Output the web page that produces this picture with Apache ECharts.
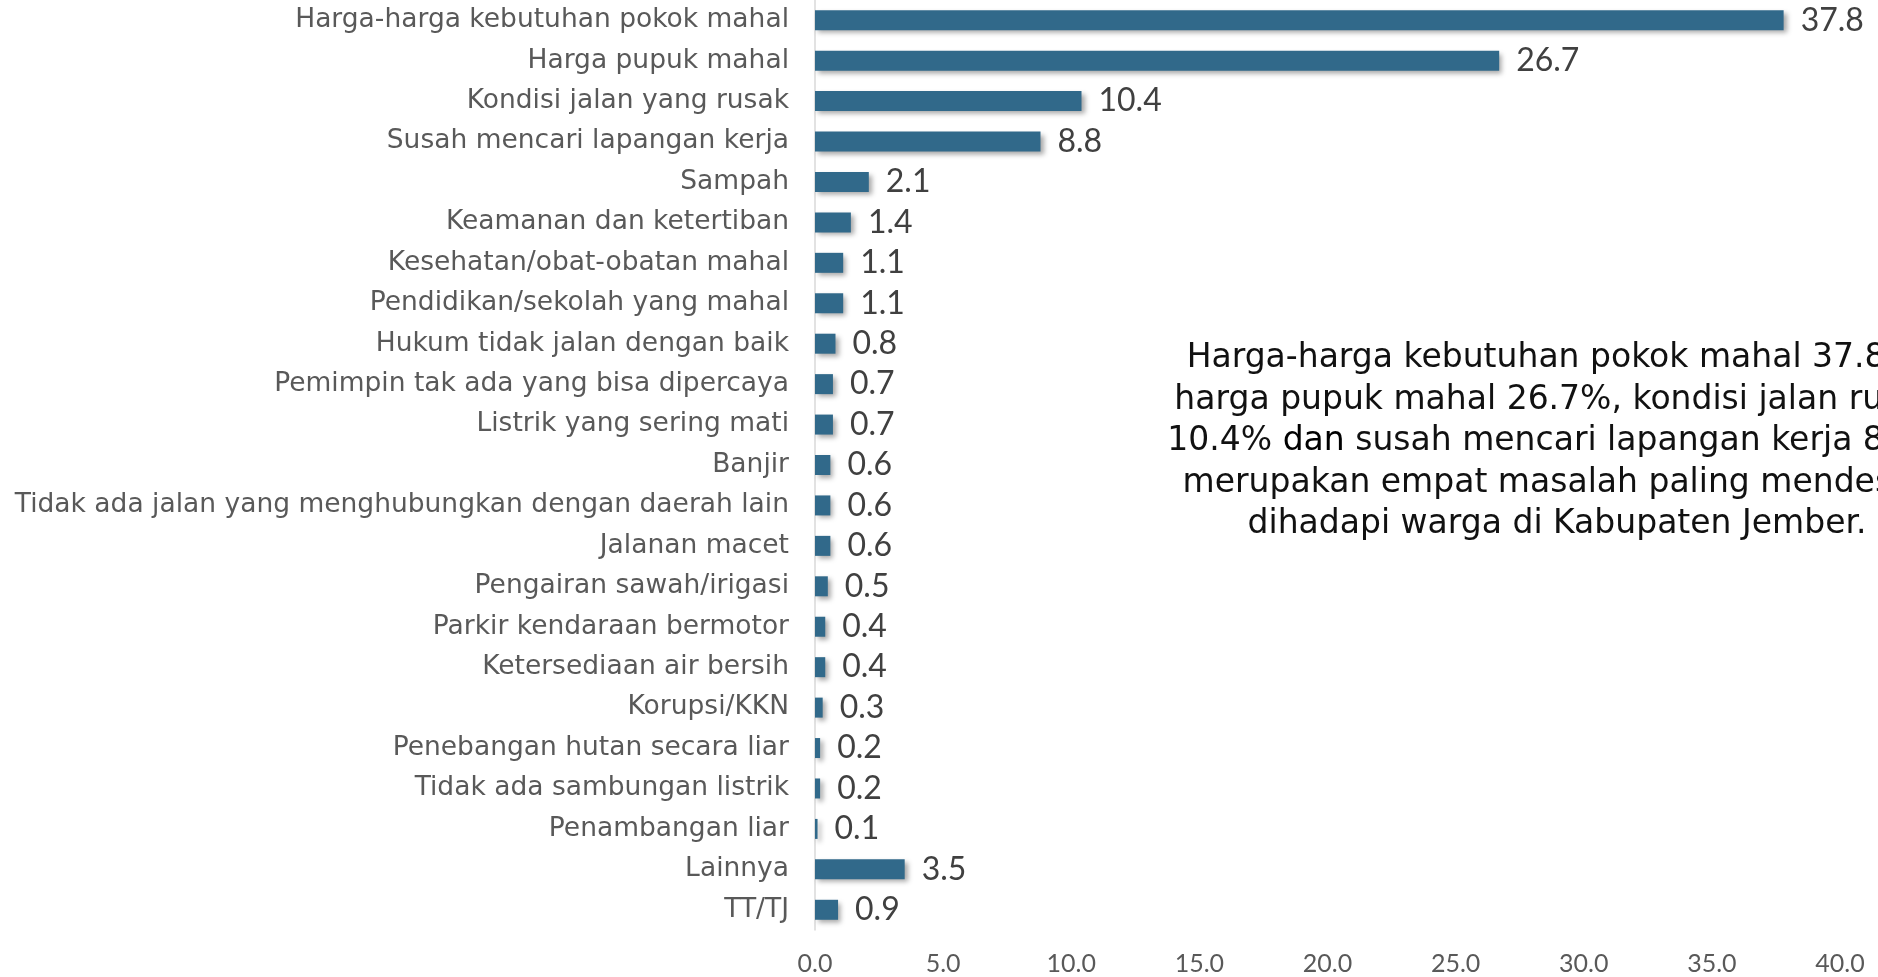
<!DOCTYPE html>
<html>
<head>
<meta charset="utf-8">
<style>
  html, body { margin: 0; padding: 0; background: #fff; }
  #chart { width: 1878px; height: 977px; }
</style>
<script src="https://cdn.jsdelivr.net/npm/echarts@6/dist/echarts.min.js"></script>
</head>
<body>
<div id="chart"></div>
<script>
// masalah yang dihadapi warga (%)
var categories = [
  "Harga-harga kebutuhan pokok mahal",
  "Harga pupuk mahal",
  "Kondisi jalan yang rusak",
  "Susah mencari lapangan kerja",
  "Sampah",
  "Keamanan dan ketertiban",
  "Kesehatan/obat-obatan mahal",
  "Pendidikan/sekolah yang mahal",
  "Hukum tidak jalan dengan baik",
  "Pemimpin tak ada yang bisa dipercaya",
  "Listrik yang sering mati",
  "Banjir",
  "Tidak ada jalan yang menghubungkan dengan daerah lain",
  "Jalanan macet",
  "Pengairan sawah/irigasi",
  "Parkir kendaraan bermotor",
  "Ketersediaan air bersih",
  "Korupsi/KKN",
  "Penebangan hutan secara liar",
  "Tidak ada sambungan listrik",
  "Penambangan liar",
  "Lainnya",
  "TT/TJ"
];
var values = [37.8, 26.7, 10.4, 8.8, 2.1, 1.4, 1.1, 1.1, 0.8, 0.7, 0.7, 0.6, 0.6, 0.6, 0.5, 0.4, 0.4, 0.3, 0.2, 0.2, 0.1, 3.5, 0.9];
var noteLines = [
  "Harga-harga kebutuhan pokok mahal 37.8%,",
  "harga pupuk mahal 26.7%, kondisi jalan rusak",
  "10.4% {b|dan} susah mencari lapangan kerja 8.8%",
  "merupakan empat masalah paling mendesak",
  "dihadapi warga di Kabupaten Jember."
];

var labelFont = "DejaVu Sans";
var numFont = "Lato";
var myChart = echarts.init(document.getElementById("chart"));
var option = {
  animation: false,
  textStyle: { fontFamily: labelFont },
  grid: { left: 815, right: 38, top: 0, bottom: 47, containLabel: false },
  xAxis: {
    type: "value",
    min: 0,
    max: 40,
    interval: 5,
    axisLine: { show: false },
    axisTick: { show: false },
    splitLine: { show: false },
    axisLabel: {
      margin: 21,
      color: "#595959",
      fontSize: 25,
      fontFamily: numFont,
      formatter: function (v) { return v.toFixed(1); }
    }
  },
  yAxis: {
    type: "category",
    inverse: true,
    data: categories,
    axisLine: { show: true, lineStyle: { color: "#d9d9d9", width: 1.5 } },
    axisTick: { show: false },
    axisLabel: {
      margin: 26,
      color: "#595959",
      fontSize: 26.5,
      fontFamily: labelFont,
      padding: [6, 0, 0, 0]
    }
  },
  series: [{
    type: "bar",
    data: values,
    barWidth: 20,
    itemStyle: {
      color: "#31698a",
      shadowColor: "rgba(0,0,0,0.35)",
      shadowBlur: 5,
      shadowOffsetX: 3,
      shadowOffsetY: 3
    },
    label: {
      show: true,
      position: "right",
      distance: 17,
      color: "#404040",
      fontSize: 32,
      fontFamily: numFont,
      padding: [5, 0, 0, 0],
      formatter: function (p) { return p.value.toFixed(1); }
    }
  }],
  graphic: [{
    type: "text",
    x: 1557,
    y: 338,
    style: {
      text: noteLines.join("\n"),
      fill: "#111",
      fontSize: 33,
      fontFamily: labelFont,
      lineHeight: 41.5,
      align: "center",
      verticalAlign: "top",
      rich: {
        b: { fontSize: 33, fontFamily: labelFont, fill: "#000", lineHeight: 41.5 }
      }
    }
  }]
};
option && myChart.setOption(option);
</script>
</body>
</html>
